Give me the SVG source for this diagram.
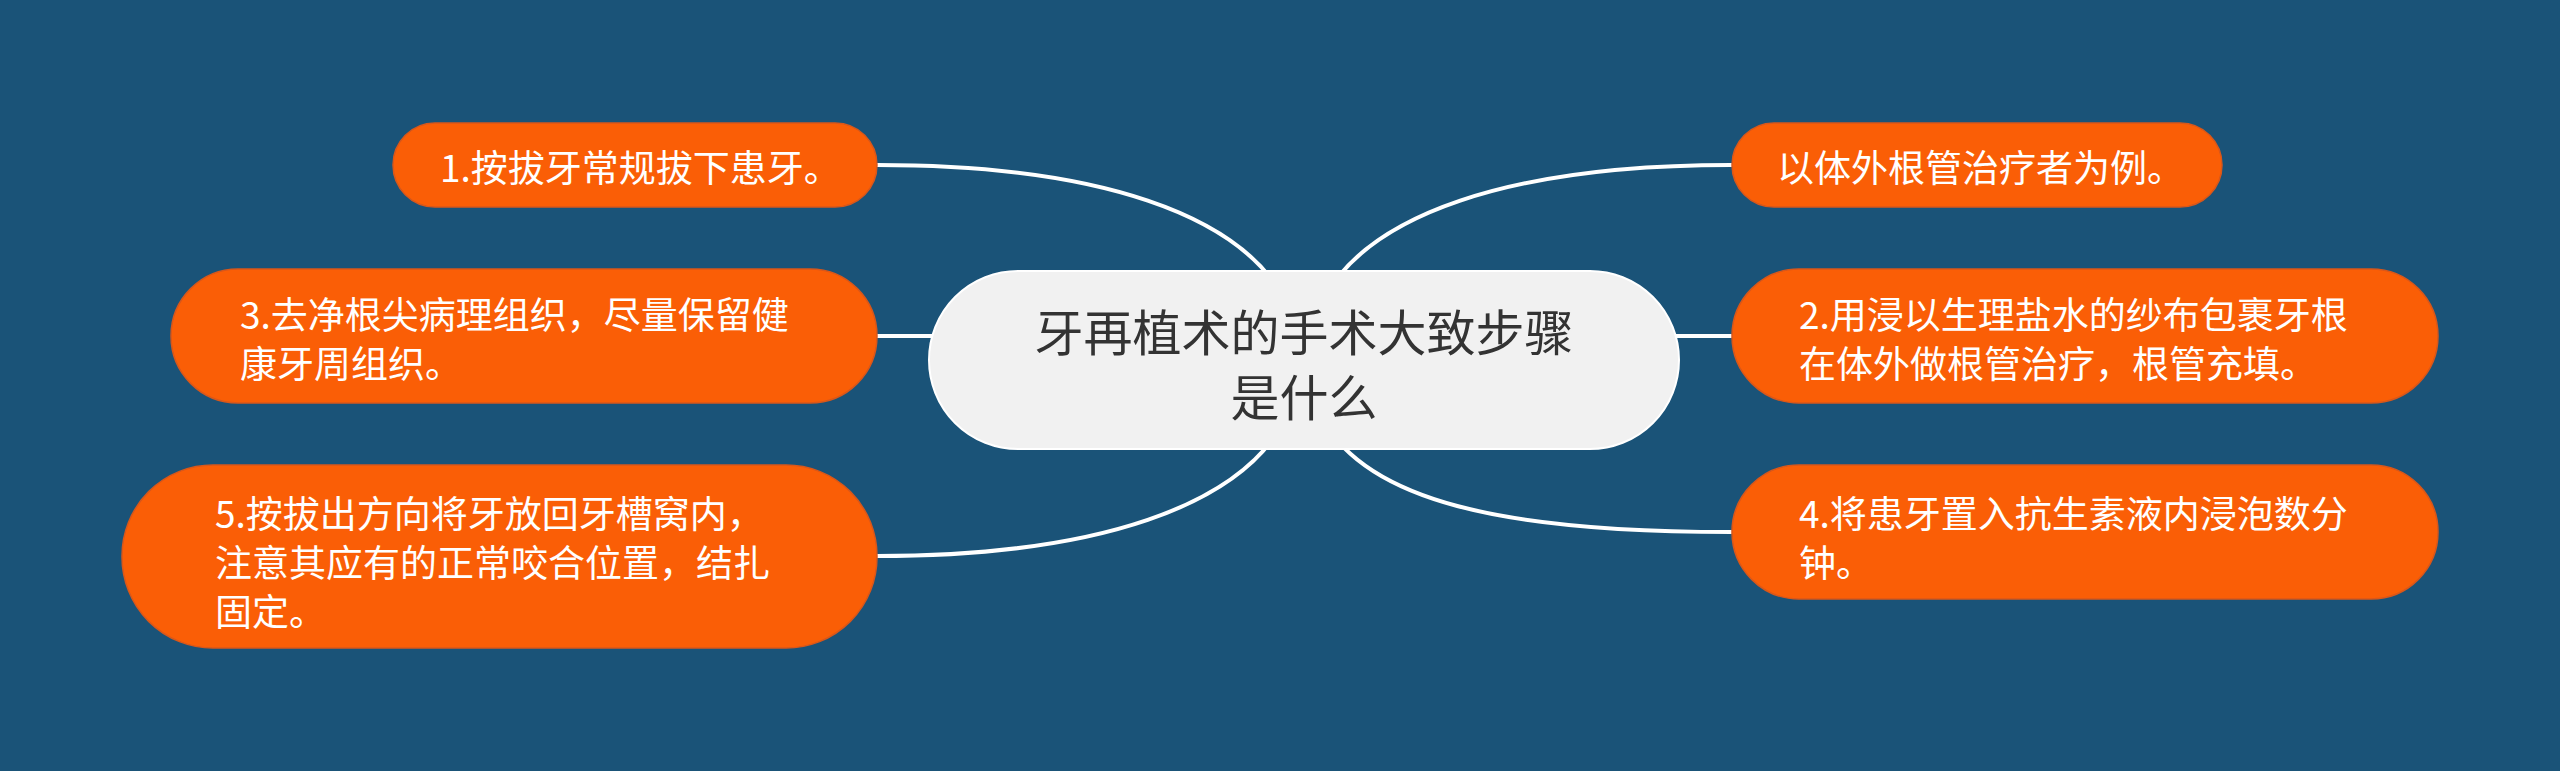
<svg xmlns="http://www.w3.org/2000/svg" width="2560" height="771" viewBox="0 0 2560 771">
<style>
.bg{fill:#1a5378}
.conn{fill:none;stroke:#ffffff;stroke-width:4;stroke-linecap:round}
.leaf{fill:#fa5e06;stroke:#d9571a;stroke-width:1.5}
.leaf-t{font-family:"Noto Sans CJK SC","Noto Sans",sans-serif;font-size:37px;fill:#ffffff;dominant-baseline:central}
.root{fill:#f1f1f1;stroke:#ffffff;stroke-width:2}
.root-t{font-family:"Noto Sans CJK SC","Noto Sans",sans-serif;font-size:49px;fill:#333333;text-anchor:middle;dominant-baseline:central}
</style>
<rect class="bg" x="0" y="0" width="2560" height="771"/>
<g id="connectors">
<path class="conn" d="M 1285 300 C 1240 215, 1100 165, 877 165"/>
<path class="conn" d="M 1323 300 C 1368 215, 1508 165, 1731 165"/>
<path class="conn" d="M 877 336 L 960 336"/>
<path class="conn" d="M 1650 336 L 1731 336"/>
<path class="conn" d="M 1285 420 C 1240 505, 1100 556, 877 556"/>
<path class="conn" d="M 1323 420 C 1368 500, 1500 532, 1731 532"/>
</g>
<g id="root">
<rect class="root" x="929" y="271" width="750" height="178" rx="89" ry="89"/>
<text class="root-t" x="1304" y="329">牙再植术的手术大致步骤</text>
<text class="root-t" x="1304" y="394">是什么</text>
</g>
<g id="n1">
<rect class="leaf" x="393" y="123" width="484" height="84" rx="42" ry="42"/>
<text class="leaf-t" x="440" y="166">1.按拔牙常规拔下患牙。</text>
</g>
<g id="n3">
<rect class="leaf" x="171" y="269" width="706" height="134" rx="67" ry="67"/>
<text class="leaf-t" x="240" y="313">3.去净根尖病理组织，尽量保留健</text>
<text class="leaf-t" x="240" y="362">康牙周组织。</text>
</g>
<g id="n5">
<rect class="leaf" x="122" y="465" width="755" height="183" rx="91" ry="91"/>
<text class="leaf-t" x="215" y="512">5.按拔出方向将牙放回牙槽窝内，</text>
<text class="leaf-t" x="215" y="561">注意其应有的正常咬合位置，结扎</text>
<text class="leaf-t" x="215" y="610">固定。</text>
</g>
<g id="n0">
<rect class="leaf" x="1732" y="123" width="490" height="84" rx="42" ry="42"/>
<text class="leaf-t" x="1777" y="166">以体外根管治疗者为例。</text>
</g>
<g id="n2">
<rect class="leaf" x="1732" y="269" width="706" height="134" rx="67" ry="67"/>
<text class="leaf-t" x="1799" y="313">2.用浸以生理盐水的纱布包裹牙根</text>
<text class="leaf-t" x="1799" y="362">在体外做根管治疗，根管充填。</text>
</g>
<g id="n4">
<rect class="leaf" x="1732" y="465" width="706" height="134" rx="67" ry="67"/>
<text class="leaf-t" x="1799" y="512">4.将患牙置入抗生素液内浸泡数分</text>
<text class="leaf-t" x="1799" y="561">钟。</text>
</g>
</svg>
